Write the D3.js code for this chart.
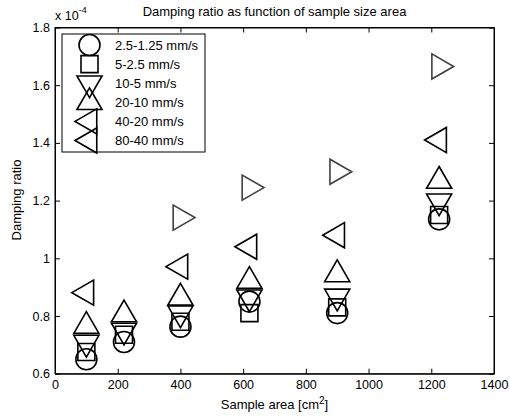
<!DOCTYPE html>
<html>
<head>
<meta charset="utf-8">
<script src="https://cdn.jsdelivr.net/npm/d3@7"></script>
<style>
  body { margin: 0; background: #fff; }
  svg { display: block; font-family: "Liberation Sans", Arial, sans-serif; }
</style>
</head>
<body>
<div id="chart"></div>
<script>
// sample areas [cm^2]
const areas = [100, 220, 400, 620, 900, 1225];

// damping ratio (x 1e-4) per velocity step
const ratio_2_5 = [0.65, 0.71, 0.763, 0.85, 0.81, 1.135];
const ratio_5 = [0.675, 0.735, 0.78, 0.81, 0.83, 1.15];
const ratio_10 = [0.708, 0.75, 0.81, 0.865, 0.868, 1.198];
const ratio_20 = [0.765, 0.805, 0.863, 0.921, 0.944, 1.268];
const ratio_40 = [0.881, null, 0.971, 1.04, 1.08, 1.41];
const ratio_80 = [null, null, 1.141, 1.245, 1.30, 1.665];

const seriesLabels = ["2.5-1.25 mm/s", "5-2.5 mm/s", "10-5 mm/s", "20-10 mm/s", "40-20 mm/s", "80-40 mm/s"];
const xTicks = [0, 200, 400, 600, 800, 1000, 1200, 1400];
const yTicks = [0.6, 0.8, 1.0, 1.2, 1.4, 1.6, 1.8];

const width = 510, height = 418;
const plotLeft = 55, plotRight = 494, plotTop = 27.5, plotBottom = 373.7;

const x = d3.scaleLinear().domain([0, 1400]).range([plotLeft, plotRight]);
const y = d3.scaleLinear().domain([0.6, 1.8]).range([plotBottom, plotTop]);

// marker shapes, MATLAB-like sizes
const R = 14.5; // triangle circumradius
function tri(dir) {
  const pts = [];
  const a0 = { up: -90, down: 90, left: 180, right: 0 }[dir];
  for (let k = 0; k < 3; k++) {
    const a = (a0 + k * 120) * Math.PI / 180;
    pts.push([R * Math.cos(a), R * Math.sin(a)]);
  }
  return "M" + pts.map(p => p.join(",")).join("L") + "Z";
}
const shapes = {
  circle: d3.arc()({ innerRadius: 0, outerRadius: 10.5, startAngle: 0, endAngle: 2 * Math.PI }),
  square: "M-8.5,-8.5H8.5V8.5H-8.5Z",
  down: tri("down"),
  up: tri("up"),
  left: tri("left"),
  right: tri("right")
};

const series = [
  { values: ratio_2_5, shape: "circle", color: "#000" },
  { values: ratio_5, shape: "square", color: "#000" },
  { values: ratio_10, shape: "down", color: "#000" },
  { values: ratio_20, shape: "up", color: "#000" },
  { values: ratio_40, shape: "left", color: "#000" },
  { values: ratio_80, shape: "right", color: "#404040" }
];
// legend in the reference shows left triangles for the last two rows
const legendShapes = ["circle", "square", "down", "up", "left", "left"];

const svg = d3.select("#chart").append("svg")
  .attr("width", width)
  .attr("height", height);

// frame
svg.append("rect")
  .attr("x", plotLeft).attr("y", plotTop)
  .attr("width", plotRight - plotLeft).attr("height", plotBottom - plotTop)
  .attr("fill", "#fff")
  .attr("stroke", "#000")
  .attr("stroke-width", 1);

// axes with inward ticks
const xAxis = svg.append("g")
  .attr("transform", "translate(0," + plotBottom + ")")
  .call(d3.axisBottom(x).tickValues(xTicks).tickFormat(d3.format("d")).tickSizeInner(-5).tickSizeOuter(0).tickPadding(6));
const xAxisTop = svg.append("g")
  .attr("transform", "translate(0," + plotTop + ")")
  .call(d3.axisTop(x).tickValues(xTicks).tickFormat("").tickSizeInner(-5).tickSizeOuter(0));
const yAxis = svg.append("g")
  .attr("transform", "translate(" + plotLeft + ",0)")
  .call(d3.axisLeft(y).tickValues(yTicks).tickFormat(d => String(+d.toFixed(1))).tickSizeInner(-5).tickSizeOuter(0).tickPadding(5));
const yAxisRight = svg.append("g")
  .attr("transform", "translate(" + plotRight + ",0)")
  .call(d3.axisRight(y).tickValues(yTicks).tickFormat("").tickSizeInner(-5).tickSizeOuter(0));

[xAxis, xAxisTop, yAxis, yAxisRight].forEach(g => {
  g.select(".domain").attr("stroke", "#000");
  g.selectAll(".tick line").attr("stroke", "#000");
  g.selectAll(".tick text")
    .attr("fill", "#000")
    .attr("font-size", 12.5)
    .attr("font-family", "Liberation Sans, Arial, sans-serif");
});

// markers
const marks = svg.append("g");
for (const s of series) {
  marks.append("g")
    .selectAll("path")
    .data(areas.map((a, i) => ({ a: a, v: s.values[i] })).filter(d => d.v !== null))
    .enter()
    .append("path")
    .attr("d", shapes[s.shape])
    .attr("transform", d => "translate(" + x(d.a) + "," + y(d.v) + ")")
    .attr("fill", "none")
    .attr("stroke", s.color)
    .attr("stroke-width", 1.6);
}

// legend
const legend = svg.append("g");
legend.append("rect")
  .attr("x", 62).attr("y", 34)
  .attr("width", 143).attr("height", 118)
  .attr("fill", "#fff")
  .attr("stroke", "#000")
  .attr("stroke-width", 1);
seriesLabels.forEach((label, i) => {
  const ry = 45 + i * 19.1;
  legend.append("path")
    .attr("d", shapes[legendShapes[i]])
    .attr("transform", "translate(89.5," + ry + ")")
    .attr("fill", "none")
    .attr("stroke", "#000")
    .attr("stroke-width", 1.6);
  legend.append("text")
    .attr("x", 115).attr("y", ry)
    .attr("dy", "0.35em")
    .attr("font-size", 13)
    .text(label);
});

// title
svg.append("text")
  .attr("x", 274.5).attr("y", 16)
  .attr("text-anchor", "middle")
  .attr("font-size", 13)
  .text("Damping ratio as function of sample size area");

// exponent label
const exp = svg.append("text")
  .attr("x", 55).attr("y", 20)
  .attr("font-size", 12.5);
exp.append("tspan").text("x 10");
exp.append("tspan").attr("dy", -7).attr("font-size", 9).text("-4");

// axis labels
const xl = svg.append("text")
  .attr("x", 274.5).attr("y", 409)
  .attr("text-anchor", "middle")
  .attr("font-size", 13);
xl.append("tspan").text("Sample area [cm");
xl.append("tspan").attr("dy", -5).attr("font-size", 10).text("2");
xl.append("tspan").attr("dy", 5).text("]");

svg.append("text")
  .attr("transform", "translate(21,200) rotate(-90)")
  .attr("text-anchor", "middle")
  .attr("font-size", 13)
  .text("Damping ratio");
</script>
</body>
</html>
